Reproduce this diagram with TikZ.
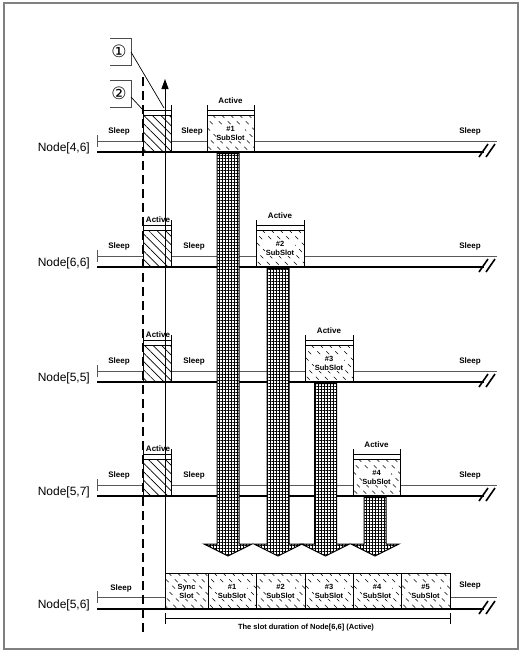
\documentclass[tikz,border=0pt]{standalone}
\usepackage{fontspec}
\setmainfont{Liberation Sans}
\newfontfamily\symfont{DejaVu Sans}
\usetikzlibrary{patterns.meta,arrows.meta}

\tikzset{
  box/.style={draw, line width=0.8pt, inner sep=0pt, outer sep=0pt},
  solidhatch/.style={pattern={Lines[angle=-45,distance=6pt,line width=0.7pt]}},
  dhatch/.style={path picture={
      \foreach \i in {-90,-81,...,40}{
        \draw[line width=0.6pt,dash pattern=on 4pt off 5pt]
          ([xshift=\i pt]path picture bounding box.north) -- ++(60pt,-60pt);}}},
  thinline/.style={draw=black!65, line width=0.9pt},
  axisline/.style={line width=2.8pt},
  slash/.style={line width=1.6pt},
  bracket/.style={line width=0.7pt},
  nodelabel/.style={font=\fontsize{12}{14}\selectfont, inner sep=0pt},
  tinytxt/.style={font=\bfseries\fontsize{8}{9}\selectfont, inner sep=0.5pt},
  boxtxt/.style={font=\bfseries\fontsize{7.5}{9}\selectfont, align=center, fill=white, inner sep=0.6pt},
  callout/.style={font=\symfont\fontsize{17}{17}\selectfont, inner sep=0pt},
  bigarrow/.style={draw=black, line width=1pt, fill=white,
      postaction={pattern={Lines[angle=0,distance=3pt,line width=0.8pt]}},
      postaction={pattern={Lines[angle=90,distance=3pt,line width=0.8pt]}}},
  dashedline/.style={line width=1.6pt, dash pattern=on 9pt off 5pt},
}

\begin{document}
\begin{tikzpicture}[x=1pt,y=-1pt]
\useasboundingbox (0,0) rectangle (522,659);
% frame
\draw[black!50, line width=1.2pt] (4,3) rectangle (518,649);

% four node rows with a sync box and one active subslot each
\foreach \r/\y/\nm/\xa/\w/\sl in {1/152/{Node[4,6]}/207/47/192,
                                  2/267/{Node[6,6]}/256/48/194,
                                  3/382/{Node[5,5]}/305/48/194,
                                  4/496/{Node[5,7]}/353/47/194}{
  \node[nodelabel, anchor=east] (lab\r) at (90,\y-4) {\nm};
  % sleep level
  \draw[thinline] (97,\y-17) -- (97,\y-5);
  \draw[thinline] (97,\y-11) -- (143,\y-11);
  \draw[thinline] (171,\y-11) -- (\xa,\y-11);
  \draw[thinline] (\xa+\w,\y-11) -- (497,\y-11);
  % time axis
  \draw[axisline] (97,\y) -- (484,\y);
  \draw[slash] (479,\y+5) -- (488,\y-8);
  \draw[slash] (486,\y+5) -- (495,\y-8);
  % sync slot box
  \node[box, solidhatch, minimum width=28pt, minimum height=37pt, anchor=south west] (sync\r) at (143,\y) {};
  \draw[bracket] (143,\y-42) -- (171,\y-42);
  \draw[bracket] (143,\y-47) -- (143,\y-37);
  \draw[bracket] (171,\y-47) -- (171,\y-37);
  \ifnum\r>1
    \node[tinytxt] (syncact\r) at (158,\y-47) {Active};
  \fi
  % active subslot box
  \node[box, dhatch, minimum width=\w pt, minimum height=37pt, anchor=south west] (act\r) at (\xa,\y) {};
  \node[boxtxt] (acttxt\r) at (act\r) {\#\r\\SubSlot};
  \draw[bracket] (\xa,\y-42) -- (\xa+\w,\y-42);
  \draw[bracket] (\xa,\y-47) -- (\xa,\y-37);
  \draw[bracket] (\xa+\w,\y-47) -- (\xa+\w,\y-37);
  \node[tinytxt] (actlab\r) at (\xa+\w/2,\y-51) {Active};
  % sleep labels
  \node[tinytxt] (sla\r) at (119,\y-21) {Sleep};
  \node[tinytxt] (slb\r) at (\sl,\y-21) {Sleep};
  \node[tinytxt] (slc\r) at (470,\y-21) {Sleep};
}

% receiving node row
\node[nodelabel, anchor=east] (lab5) at (90,605) {Node[5,6]};
\draw[thinline] (97,591) -- (97,603);
\draw[thinline] (97,597) -- (165,597);
\draw[thinline] (450,597) -- (497,597);
\draw[axisline] (97,609) -- (484,609);
\draw[slash] (479,614) -- (488,601);
\draw[slash] (486,614) -- (495,601);
\node[tinytxt] (sla5) at (121,588) {Sleep};
\node[tinytxt] (slc5) at (470,585) {Sleep};

\foreach \n/\xa/\w/\t in {0/165/43/{Sync\\Slot}, 1/208/48/{\#1\\SubSlot}, 2/256/49/{\#2\\SubSlot},
                          3/305/48/{\#3\\SubSlot}, 4/353/48/{\#4\\SubSlot}, 5/401/49/{\#5\\SubSlot}}{
  \node[box, dhatch, minimum width=\w pt, minimum height=36pt, anchor=south west] (rx\n) at (\xa,609) {};
  \node[boxtxt] (rxt\n) at (rx\n) {\t};
}

% slot duration bracket
\coordinate (durl) at (165,618);
\coordinate (durr) at (450,618);
\draw[bracket] (durl) -- (durr);
\draw[bracket] ([yshift=5pt]durl) -- ([yshift=-6pt]durl);
\draw[bracket] ([yshift=5pt]durr) -- ([yshift=-6pt]durr);
\node[tinytxt, font=\bfseries\fontsize{7.5}{9}\selectfont] (durlab) at (306,628) {The slot duration of Node[6,6] (Active)};

% data transfer arrows
\foreach \r/\cx in {1/228,2/278,3/325.5,4/375}{
  \coordinate (tip\r) at (\cx,556);
  \coordinate (top\r) at ([yshift=-1.5pt]tip\r |- act\r.south);
  \draw[bigarrow] ([xshift=-11pt]top\r) -- ([xshift=-11pt,yshift=12pt]tip\r)
     -- ([xshift=-24pt,yshift=12pt]tip\r) -- (tip\r)
     -- ([xshift=24pt,yshift=12pt]tip\r) -- ([xshift=11pt,yshift=12pt]tip\r)
     -- ([xshift=11pt]top\r) -- cycle;
}

% time references
\coordinate (uptip) at (165,79);
\draw[line width=1pt, -{Triangle[length=10pt,width=7pt]}] (rx0.north west) -- (uptip);
\coordinate (dtop) at (143,77);
\coordinate (dbot) at (143,636);
\draw[dashedline] (dtop) -- (dbot);

% callouts
\draw[black!70, line width=0.8pt] (110,38) -- (131,38) -- (131,65) -- (110,65);
\node[callout] (c1) at (119,51.5) {①};
\draw[black!70, line width=0.8pt] (110,80) -- (131,80) -- (131,107) -- (110,107);
\node[callout] (c2) at (119,93.5) {②};
\coordinate (c1end) at (164,108);
\coordinate (c2end) at (143,110);
\draw[line width=0.7pt] (131,52) -- (c1end);
\draw[line width=0.7pt] (131,97) -- (c2end);
\end{tikzpicture}
\end{document}
